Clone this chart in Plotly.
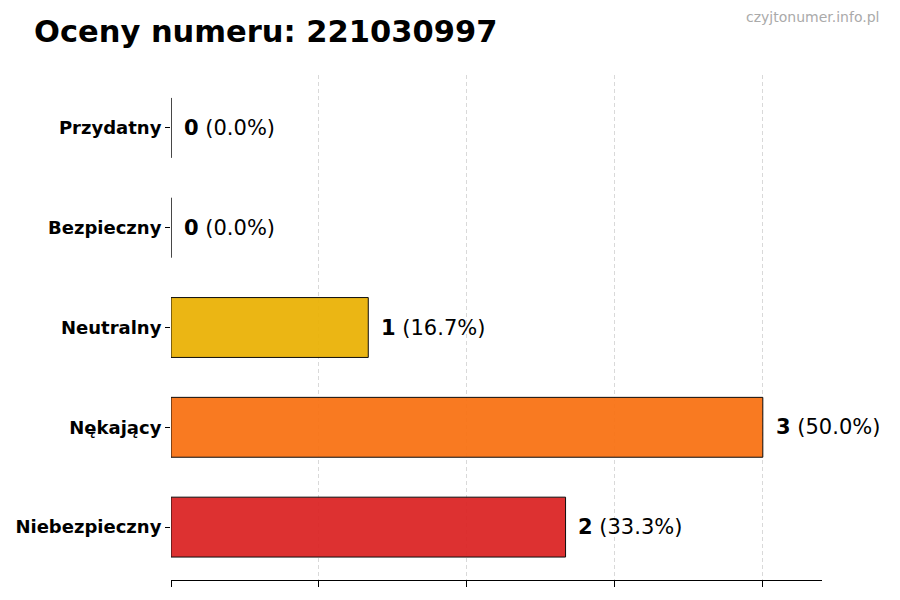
import plotly.graph_objects as go

# ratings of the phone number, top to bottom as shown
categories = ['Przydatny', 'Bezpieczny', 'Neutralny', 'Nękający', 'Niebezpieczny']
counts = [0, 0, 1, 3, 2]
colors = ['#22C55E', '#3B82F6', '#EAB308', '#F97316', '#DC2626']
xticks = [0, 0.75, 1.5, 2.25, 3]

total = sum(counts)
n = len(categories)
ypos = [n - 1 - i for i in range(n)]

font = 'DejaVu Sans'

fig = go.Figure()
fig.add_trace(go.Bar(
    x=counts,
    y=ypos,
    orientation='h',
    width=0.6,
    marker=dict(color=colors, opacity=0.95, line=dict(color='black', width=1)),
    hoverinfo='skip',
))

for c, y in zip(counts, ypos):
    pct = c / total * 100 if total else 0
    fig.add_annotation(
        x=c + 0.055, y=y, xref='x', yref='y',
        text=f'<b>{c}</b> ({pct:.1f}%)',
        showarrow=False, xanchor='left', yanchor='middle',
        font=dict(family=font, size=21, color='black'),
    )

# watermark, top right (paper coords are relative to the plot area)
fig.add_annotation(
    x=(881 - 171) / 651, y=(580 - 17) / 505, xref='paper', yref='paper',
    text='czyjtonumer.info.pl',
    showarrow=False, xanchor='right', yanchor='middle',
    font=dict(family=font, size=14, color='#aaaaaa'),
)

# the page body adds an 8px offset, so margins are shifted by it
fig.update_layout(
    width=900, height=600,
    margin=dict(l=163, r=86, t=67, b=28, autoexpand=False),
    paper_bgcolor='white', plot_bgcolor='white',
    showlegend=False,
    title=dict(
        text='<b>Oceny numeru: 221030997</b>',
        x=26 / 900, xanchor='left', y=1 - 23 / 600, yanchor='middle',
        font=dict(family=font, size=30.5, color='black'),
    ),
    xaxis=dict(
        range=[0, 3.3], tickvals=xticks, showticklabels=False,
        ticks='outside', ticklen=6, tickcolor='black',
        showline=True, linecolor='black', linewidth=1,
        showgrid=True, gridcolor='#d9d9d9', griddash='4px,3px', gridwidth=1,
        zeroline=False, fixedrange=True, automargin=False,
    ),
    yaxis=dict(
        range=[-0.53, n - 1 + 0.53], tickvals=ypos,
        ticktext=[f'<b>{c}</b>' for c in categories],
        ticks='outside', ticklen=5, tickcolor='black',
        showline=False, showgrid=False, zeroline=False,
        tickfont=dict(family=font, size=18, color='black'),
        fixedrange=True, automargin=False,
    ),
)

fig.write_html('out.html')
